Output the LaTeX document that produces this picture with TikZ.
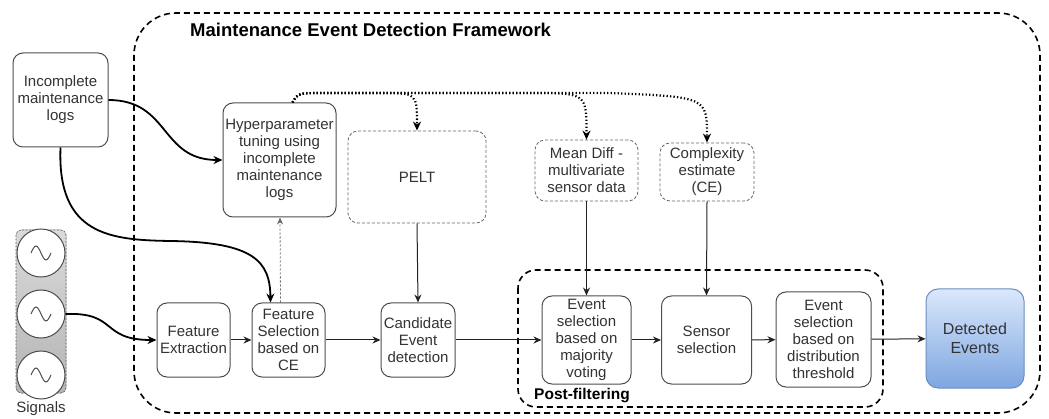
\documentclass[tikz,border=0pt]{standalone}
\usepackage{fontspec}
\setmainfont{Liberation Sans}
\usetikzlibrary{arrows.meta,calc}
\definecolor{txt}{HTML}{333333}
\definecolor{bd}{HTML}{4D4D4D}
\definecolor{bdd}{HTML}{666666}
\definecolor{ar}{HTML}{222222}
\definecolor{blueT}{HTML}{DAE8FC}
\definecolor{blueB}{HTML}{7EA6E0}
\definecolor{blueD}{HTML}{6C8EBF}
\definecolor{sigT}{HTML}{DADADA}
\definecolor{sigB}{HTML}{B4B4B4}
\newcommand\fsz{\fontsize{15}{17}\selectfont}
\begin{document}
\begin{tikzpicture}[x=1pt,y=-1pt,
  box/.style={draw=bd, line width=1pt, rounded corners=10pt, fill=white, align=center, text=txt, font=\fsz, inner sep=1pt},
  dbox/.style={box, draw=bdd, line width=0.8pt, dash pattern=on 3pt off 2pt},
  arr/.style={-{Stealth[length=8pt,width=7pt]}, line width=1pt, draw=ar},
  carr/.style={-{Stealth[length=9pt,width=8pt]}, line width=1.8pt, draw=black},
  dotarr/.style={-{Stealth[length=9pt,width=8pt]}, line width=2.2pt, draw=black, dash pattern=on 1.3pt off 2.2pt},
  thinarr/.style={-{Stealth[length=7pt,width=6pt]}, line width=0.8pt, draw=bdd, dash pattern=on 2pt off 2pt},
  frame/.style={draw=black, line width=1.6pt, dash pattern=on 6pt off 4pt},
  sigc/.style={circle, draw=bd, line width=1pt, fill=white, minimum size=48pt, inner sep=0pt}
]
\useasboundingbox (0,0) rectangle (1049,419);

% frames
\draw[frame, rounded corners=42pt] (134,13) rectangle (1040,413);
\node[anchor=west, font=\fontsize{18.5}{20}\selectfont\bfseries, text=black, inner sep=0pt] (title) at (190,30) {Maintenance Event Detection Framework};
\draw[frame, rounded corners=18pt] (518,270) rectangle (883,407);
\node[anchor=west, font=\fontsize{15.5}{17}\selectfont\bfseries, text=black, inner sep=0pt] (pf) at (534,396) {Post-filtering};

% signals
\fill[rounded corners=5pt, top color=sigT, bottom color=sigB] (16,230) rectangle (66,393);
\draw[rounded corners=5pt, draw=gray!80!black, line width=0.6pt, dash pattern=on 2pt off 1.5pt] (16,230) rectangle (66,393);
\foreach \n/\yy in {s1/253, s2/314, s3/375}{
  \node[sigc] (\n) at (41,\yy) {};
  \draw[bd, line width=1pt] (31,\yy) sin (36,\yy-7) cos (41,\yy) sin (46,\yy+7) cos (51,\yy);
}
\node[text=txt, font=\fsz, inner sep=0pt] (siglab) at (41,409) {Signals};

% nodes
\node[box, minimum width=95pt, minimum height=94pt] (logs) at (60.5,100) {Incomplete\\maintenance\\logs};
\node[box, minimum width=113pt, minimum height=114pt] (hyper) at (279.5,160) {Hyperparameter\\tuning using\\incomplete\\maintenance\\logs};
\node[dbox, minimum width=138pt, minimum height=92pt] (pelt) at (417,177) {PELT};
\node[dbox, minimum width=103pt, minimum height=61pt] (mdiff) at (586.5,170.5) {Mean Diff -\\multivariate\\sensor data};
\node[dbox, minimum width=94pt, minimum height=58pt] (cx) at (707,172) {Complexity\\estimate\\(CE)};
\node[box, minimum width=73pt, minimum height=74pt] (fext) at (193.5,340) {Feature\\Extraction};
\node[box, minimum width=73pt, minimum height=74pt] (fsel) at (288.5,340) {Feature\\Selection\\based on\\CE};
\node[box, minimum width=74pt, minimum height=74pt] (cand) at (418,340) {Candidate\\Event\\detection};
\node[box, minimum width=89pt, minimum height=88pt] (maj) at (586.5,340) {Event\\selection\\based on\\majority\\voting};
\node[box, minimum width=90pt, minimum height=88pt] (sens) at (706.5,340) {Sensor\\selection};
\node[box, minimum width=95pt, minimum height=95pt] (dist) at (823.5,339.5) {Event\\selection\\based on\\distribution\\threshold};
\node[box, draw=blueD, top color=blueT, bottom color=blueB, minimum width=98pt, minimum height=99pt, rounded corners=12pt, font=\fontsize{16}{19}\selectfont] (det) at (975,338.5) {Detected\\Events};

% connectors
\draw[carr] (logs.east) .. controls (170,100) and (160,160) .. (hyper.west);
\draw[carr] (logs.south) .. controls (57,235) and (110,240) .. (170,241) .. controls (255,242) and (270,262) .. ($(fsel.north)+(-18,0)$);
\draw[carr] (s2.east) .. controls (118,312) and (100,340) .. (fext.west);
\draw[arr] (fext) -- (fsel);
\draw[thinarr] ($(fsel.north)+(-8,0)$) -- ($(hyper.south)+(0.5,0)$);
\draw[arr] (fsel) -- (cand);
\draw[arr] (pelt.south) -- (cand.north);
\draw[arr] (cand) -- (maj);
\draw[arr] (mdiff.south) -- (maj.north);
\draw[arr] (cx.south) -- (sens.north);
\draw[arr] (maj) -- (sens);
\draw[arr] (sens) -- (dist);
\draw[arr] (dist) -- (det);

\coordinate (hs) at ($(hyper.north)+(13,0)$);
\draw[dotarr] (hs) .. controls (298,93) .. (325,93) -- (380,93) .. controls (417,93) .. (pelt.north);
\draw[dotarr] (hs) .. controls (298,93) .. (325,93) -- (530,93) .. controls (586.5,93) .. (mdiff.north);
\draw[dotarr] (hs) .. controls (298,93) .. (325,93) -- (610,93) .. controls (707,97) .. (cx.north);
\end{tikzpicture}
\end{document}
